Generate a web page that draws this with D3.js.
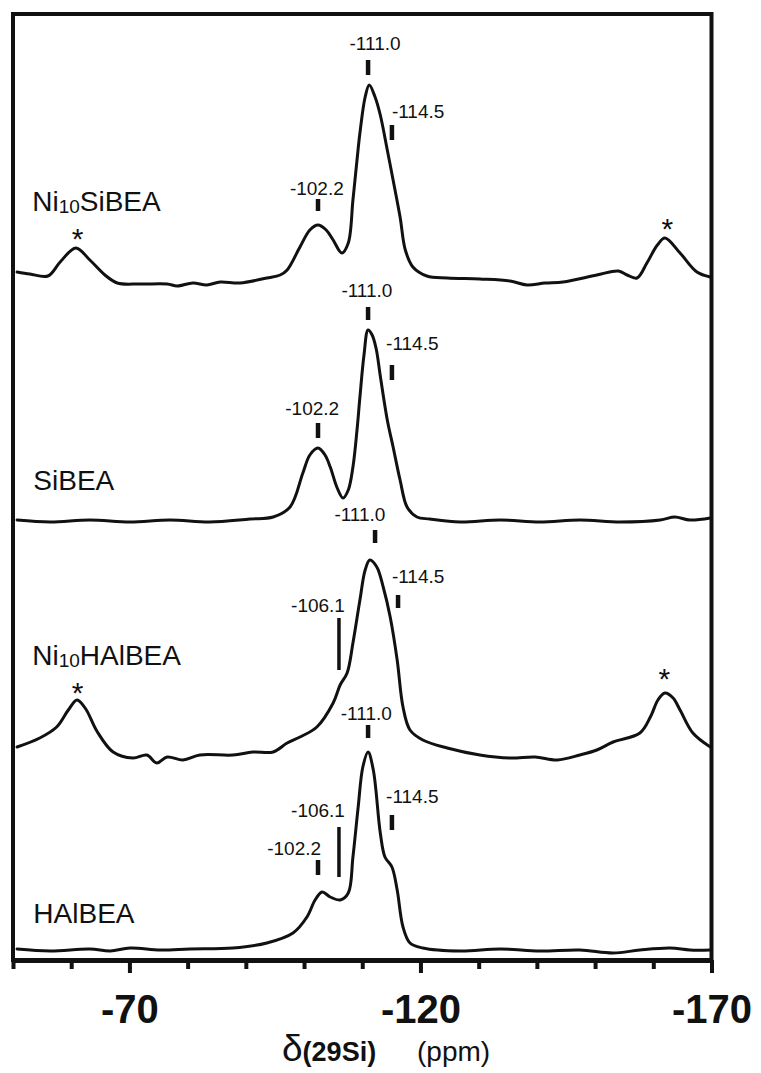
<!DOCTYPE html>
<html><head><meta charset="utf-8">
<script src="https://cdn.jsdelivr.net/npm/d3@7"></script>
<style>
body{margin:0;background:#fff}
svg{display:block}
text{font-family:"Liberation Sans",Arial,Helvetica,sans-serif;fill:#111}
</style>
</head><body>
<svg id="chart" width="761" height="1073"></svg>
<script>
// ---------- data ----------
const sampleNames = ["Ni10SiBEA", "SiBEA", "Ni10HAlBEA", "HAlBEA"];
const traceOffsets = [677, 439, 205, 10];          // vertical stacking offsets (intensity units)
const allTicks = [-50, -60, -70, -80, -90, -100, -110, -120, -130, -140, -150, -160, -170];
const majorTicks = [-70, -120, -170];

// [ppm, intensity]
const ni10SiBEA = [[-50.7,11],[-52.9,9],[-56.0,7],[-58.1,21],[-60.8,35],[-63.2,23],[-65.8,8],[-67.9,0],[-71.8,-1],[-76.5,-1],[-78.2,-3],[-80.9,0],[-83.3,-2],[-85.6,1],[-89.0,0],[-93.6,5],[-95.9,8],[-97.1,13],[-99.3,36],[-101.0,53],[-102.4,58],[-103.8,53],[-105.0,43],[-106.5,30],[-107.6,40],[-108.4,83],[-109.1,123],[-109.6,150],[-110.5,186],[-111.2,198],[-112.2,186],[-113.1,168],[-114.3,133],[-115.3,103],[-116.5,66],[-117.4,33],[-118.7,16],[-121.1,7],[-124.6,5],[-130.2,4],[-135.4,2],[-138.3,-2],[-141.4,0],[-144.5,1],[-150.3,8],[-154.0,12],[-155.5,8],[-157.2,5],[-158.9,20],[-160.7,38],[-162.0,45],[-164.6,30],[-167.5,11],[-169.8,6]];

const siBEA = [[-50.7,1],[-56.4,-1],[-63.2,1],[-70.1,-1],[-77.0,1],[-83.8,-1],[-90.7,2],[-94.7,4],[-97.6,14],[-99.8,48],[-101.0,66],[-102.4,73],[-103.6,66],[-104.5,54],[-105.7,33],[-106.7,23],[-107.6,31],[-108.4,54],[-109.1,91],[-109.6,124],[-110.3,166],[-111.0,191],[-111.7,186],[-112.4,172],[-113.1,145],[-114.3,101],[-115.3,74],[-116.5,41],[-117.7,14],[-119.4,4],[-121.6,2],[-126.8,-1],[-133.7,1],[-140.5,-1],[-147.4,1],[-154.3,-1],[-161.2,1],[-163.7,4],[-166.3,1],[-169.8,3]];

const ni10HAlBEA = [[-50.7,8],[-54.6,17],[-57.5,28],[-59.5,45],[-61.0,55],[-62.5,46],[-64.4,24],[-67.2,3],[-70.6,-3],[-73.0,0],[-74.7,-8],[-76.5,-2],[-79.2,-5],[-82.1,0],[-87.8,0],[-91.2,3],[-94.7,3],[-97.1,12],[-99.3,18],[-102.2,28],[-105.0,52],[-106.2,70],[-107.4,82],[-108.4,112],[-109.6,155],[-110.5,185],[-111.3,195],[-112.5,188],[-113.6,168],[-114.8,138],[-116.0,95],[-117.0,48],[-118.2,25],[-120.4,15],[-124.6,7],[-130.2,0],[-135.4,-3],[-139.7,-2],[-143.5,-5],[-147.4,0],[-150.3,5],[-153.1,13],[-157.7,22],[-159.5,38],[-160.8,55],[-162.0,62],[-163.4,57],[-164.6,45],[-166.8,22],[-169.8,8]];

const hAlBEA = [[-50.7,1],[-56.4,-1],[-63.2,1],[-66.7,-1],[-70.1,2],[-75.3,0],[-80.4,1],[-87.8,2],[-93.6,7],[-98.1,17],[-100.5,33],[-101.9,50],[-103.1,58],[-104.5,53],[-106.2,50],[-107.6,57],[-108.4,93],[-109.3,143],[-110.1,183],[-111.0,198],[-111.9,180],[-113.1,117],[-113.9,93],[-115.1,83],[-116.0,60],[-117.0,23],[-118.2,7],[-120.4,2],[-126.8,-1],[-133.7,1],[-140.5,-1],[-147.4,0],[-153.1,-3],[-157.7,0],[-162.9,2],[-166.3,0],[-169.8,0]];

const spectra = [ni10SiBEA, siBEA, ni10HAlBEA, hAlBEA];

// sample label anchor [ppm, intensity] per trace
const sampleLabelAt = [[-53.3,72],[-53.5,31],[-53.3,90],[-53.5,27]];

// spinning side band asterisks: [trace, ppm, intensity]
const sidebands = [[0,-61.1,34],[0,-162.4,44],[2,-61.1,52],[2,-161.9,66]];

// peak annotations: [trace, label, markPpm, markTop, markBottom, labelPpm, labelIntensity]
const peakMarks = [
  [0,"-111.0",-111.0,223,208,-112.2,233],
  [0,"-114.5",-115.1,158,143,-119.6,165],
  [0,"-102.2",-102.4,84,72,-102.2,88],
  [1,"-111.0",-111.0,214,201,-110.8,224],
  [1,"-114.5",-115.1,156,141,-118.6,171],
  [1,"-102.2",-102.4,98,83,-101.4,106],
  [2,"-111.0",-112.2,225,212,-109.6,234],
  [2,"-114.5",-116.15,160,147,-119.6,172],
  [2,"-106.1",-106.0,137,85,-102.4,143],
  [3,"-111.0",-111.0,225,212,-110.7,230],
  [3,"-114.5",-115.1,135,120,-118.6,147],
  [3,"-106.1",-106.0,123,73,-102.4,133],
  [3,"-102.2",-102.4,90,75,-98.3,95]
];

// ---------- drawing ----------
const svg = d3.select("#chart");
const x = d3.scaleLinear().domain([-50, -170]).range([13, 711.5]);
const y = d3.scaleLinear().domain([0, 947]).range([960, 13]);

// frame
svg.append("rect")
  .attr("x", x(-50)).attr("y", y(946))
  .attr("width", x(-170) - x(-50)).attr("height", y(0) - y(946))
  .attr("fill", "none").attr("stroke", "#111").attr("stroke-width", 4);

// traces
const line = (off) => d3.line()
  .x(d => x(d[0]))
  .y(d => y(d[1] + off))
  .curve(d3.curveCatmullRom.alpha(0.5));

spectra.forEach((s, i) => {
  svg.append("path")
    .datum(s)
    .attr("d", line(traceOffsets[i]))
    .attr("fill", "none")
    .attr("stroke", "#111")
    .attr("stroke-width", 3)
    .attr("stroke-linejoin", "round")
    .attr("stroke-linecap", "round");
});

// axis
const axis = d3.axisBottom(x)
  .tickValues(allTicks)
  .tickSize(9)
  .tickSizeOuter(0)
  .tickFormat(d => majorTicks.includes(d) ? String(d) : "");
const ga = svg.append("g").attr("transform", `translate(0,${y(0)})`).call(axis);
ga.select(".domain").attr("stroke", "#111").attr("stroke-width", 5);
ga.selectAll(".tick line").attr("stroke", "#111").attr("stroke-width", 4)
  .attr("y2", d => majorTicks.includes(d) ? 13 : 9);
ga.selectAll(".tick text")
  .attr("y", 63).attr("dy", 0)
  .attr("fill", "#111")
  .style("font-family", '"Liberation Sans",Arial,sans-serif')
  .style("font-weight", "bold")
  .style("font-size", "40px");

// axis title
const at = svg.append("text").attr("x", 282).attr("y", 1061);
at.append("tspan").text("δ").style("font-size", "37px");
at.append("tspan").text("(29Si)").style("font-size", "27px").style("font-weight", "bold");
svg.append("text").attr("x", 417).attr("y", 1061).style("font-size", "28px").text("(ppm)");

// sample labels
sampleNames.forEach((name, i) => {
  const [p, v] = sampleLabelAt[i];
  const t = svg.append("text")
    .attr("x", x(p)).attr("y", y(v + traceOffsets[i]))
    .style("font-size", "28px");
  const m = name.match(/^(Ni)(10)(.*)$/);
  if (m) {
    t.append("tspan").text(m[1]);
    t.append("tspan").text(m[2]).style("font-size", "19px").attr("dy", 2);
    t.append("tspan").text(m[3]).attr("dy", -2);
  } else {
    t.text(name);
  }
});

// asterisks
svg.selectAll(".sb").data(sidebands).enter().append("text")
  .attr("class", "sb")
  .attr("x", d => x(d[1])).attr("y", d => y(d[2] + traceOffsets[d[0]]))
  .attr("text-anchor", "middle")
  .style("font-size", "30px")
  .text("*");

// peak marks
svg.selectAll(".pm").data(peakMarks).enter().append("line")
  .attr("class", "pm")
  .attr("x1", d => x(d[2])).attr("x2", d => x(d[2]))
  .attr("y1", d => y(d[3] + traceOffsets[d[0]]))
  .attr("y2", d => y(d[4] + traceOffsets[d[0]]))
  .attr("stroke", "#111")
  .attr("stroke-width", d => (d[3] - d[4]) > 30 ? 3.5 : 4.5);

svg.selectAll(".pl").data(peakMarks).enter().append("text")
  .attr("class", "pl")
  .attr("x", d => x(d[5])).attr("y", d => y(d[6] + traceOffsets[d[0]]))
  .attr("text-anchor", "middle")
  .style("font-size", "19px")
  .text(d => d[1]);
</script>
</body></html>
